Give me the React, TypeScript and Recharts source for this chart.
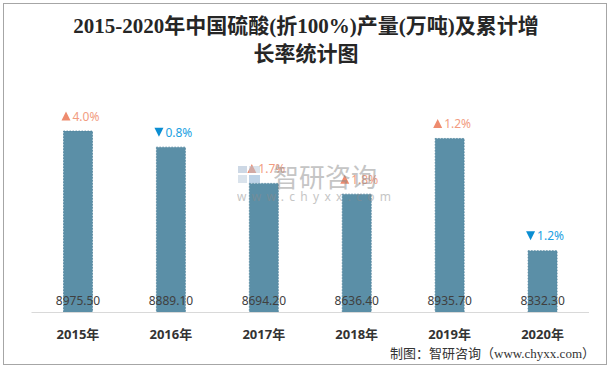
import React from 'react';
import { BarChart, Bar, XAxis, YAxis, LabelList } from 'recharts';

const years = ['2015年', '2016年', '2017年', '2018年', '2019年', '2020年'];
const output = [8975.5, 8889.1, 8694.2, 8636.4, 8935.7, 8332.3];
const growth = [4.0, -0.8, 1.7, 1.8, 1.2, -1.2];

const titleLines = ['2015-2020年中国硫酸(折100%)产量(万吨)及累计增', '长率统计图'];
const sourceText = '制图：智研咨询（www.chyxx.com）';

const data = years.map((y, i) => ({ year: y, output: output[i], growth: growth[i] }));

const W = 614;
const H = 370;
const BAR_FILL = '#5B8FA7';
const BAR_STROKE = '#4E819B';
const UP_TEXT = '#F29C7F';
const UP_TRI = '#EE8B6E';
const DOWN_TEXT = '#1BA1E2';
const DOWN_TRI = '#0B8ED2';
const SANS = "'Noto Sans', 'Noto Sans CJK SC', sans-serif";
const SERIF = "'Liberation Serif', 'Noto Sans CJK SC', serif";

const GrowthLabel = (props: any) => {
  const { x, y, width, value } = props;
  const up = value >= 0;
  const cx = x + width / 2;
  const cy = y - 15;
  const txt = Math.abs(value).toFixed(1) + '%';
  const triW = 9;
  const gap = 2;
  const tw = 26;
  const left = cx - (triW + gap + tw) / 2 + 2;
  const pts = up
    ? `${left},${cy + 4.5} ${left + triW},${cy + 4.5} ${left + triW / 2},${cy - 4.5}`
    : `${left},${cy - 4.5} ${left + triW},${cy - 4.5} ${left + triW / 2},${cy + 4.5}`;
  return (
    <g>
      <polygon points={pts} fill={up ? UP_TRI : DOWN_TRI} />
      <text x={left + triW + gap} y={cy} dominantBaseline="central" fontSize={12} fontFamily={SANS} fill={up ? UP_TEXT : DOWN_TEXT}>
        {txt}
      </text>
    </g>
  );
};

const ValueLabel = (props: any) => {
  const { x, y, width, height, value } = props;
  return (
    <text x={x + width / 2} y={y + height - 8} textAnchor="middle" fontSize={12} fontFamily={SANS} fill="#404040">
      {Number(value).toFixed(2)}
    </text>
  );
};

export default function App() {
  return (
    <div style={{ position: 'absolute', left: 0, top: 0, width: W, height: H, background: '#fff' }}>
      <BarChart
        width={W}
        height={H}
        data={data}
        margin={{ top: 126.5, right: 25, bottom: 27.5, left: 31.5 }}
        barSize={29}
      >
        <XAxis
          dataKey="year"
          height={30}
          axisLine={{ stroke: '#D9D9D9', strokeWidth: 1 }}
          tickLine={false}
          tickSize={0}
          tickMargin={17}
          interval={0}
          tick={{ fontSize: 13, fontWeight: 'bold', fill: '#333333', fontFamily: SANS }}
        />
        <YAxis hide domain={[8000, 9000]} allowDataOverflow />
        <Bar
          dataKey="output"
          fill={BAR_FILL}
          stroke={BAR_STROKE}
          strokeWidth={0.8}
          strokeDasharray="1.5 1.5"
          isAnimationActive={false}
        >
          <LabelList dataKey="output" content={ValueLabel} />
          <LabelList dataKey="growth" content={GrowthLabel} />
        </Bar>
      </BarChart>
      <svg
        width={W}
        height={H}
        style={{ position: 'absolute', left: 0, top: 0, pointerEvents: 'none' }}
      >
        <rect x={3.5} y={3.5} width={603} height={361} fill="none" stroke="#A6A6A6" strokeWidth={1} />
        <text x={306} y={33} textAnchor="middle" fontSize={21} fontWeight="bold" fontFamily={SERIF} fill="#262626">
          {titleLines[0]}
        </text>
        <text x={306} y={61} textAnchor="middle" fontSize={21} fontWeight="bold" fontFamily={SERIF} fill="#262626">
          {titleLines[1]}
        </text>
        <g opacity={0.5}>
          <rect x={238} y={166} width={9} height={7} fill="#9DB3CC" />
          <rect x={249} y={166} width={11} height={7} fill="#B7C8DA" />
          <rect x={238} y={175} width={9} height={8} fill="#B7C8DA" />
          <rect x={249} y={175} width={11} height={8} fill="#7FA9D0" />
          <text x={273} y={187} fontSize={26} fontFamily={SANS} fill="#8C8C8C">智研咨询</text>
          <text x={237} y={201} fontSize={12} letterSpacing={5.3} fontFamily={SANS} fill="#8C8C8C">www.chyxx.com</text>
        </g>
        <text x={595} y={358} textAnchor="end" fontSize={13} fontFamily={SERIF} fill="#333333">
          {sourceText}
        </text>
      </svg>
    </div>
  );
}
